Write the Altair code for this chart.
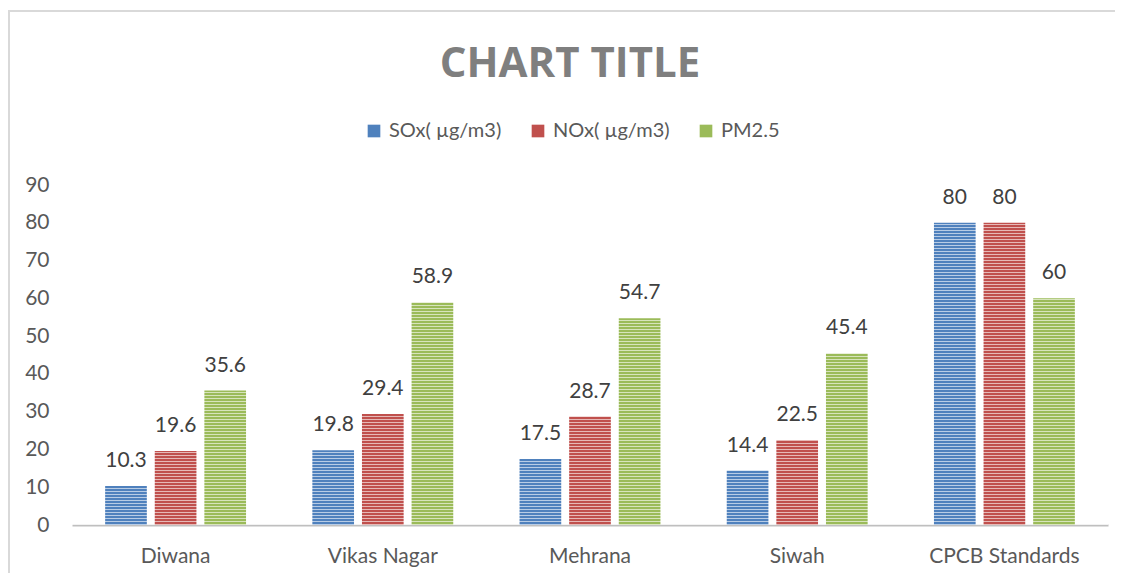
import altair as alt
import pandas as pd

categories = ["Diwana", "Vikas Nagar", "Mehrana", "Siwah", "CPCB Standards"]
series = ["SOx( µg/m3)", "NOx( µg/m3)", "PM2.5"]
sox = [10.3, 19.8, 17.5, 14.4, 80]
nox = [19.6, 29.4, 28.7, 22.5, 80]
pm25 = [35.6, 58.9, 54.7, 45.4, 60]
colors = ["#4F81BD", "#C0504D", "#9BBB59"]
y_ticks = [0, 10, 20, 30, 40, 50, 60, 70, 80, 90]

rows = []
for s, vals in zip(series, [sox, nox, pm25]):
    for c, v in zip(categories, vals):
        rows.append({"site": c, "series": s, "value": v})
df = pd.DataFrame(rows)

W, H = 1036, 340
FONT = "Lato"
FS = 21

x_enc = alt.X("site:N", sort=categories, title=None,
              scale=alt.Scale(paddingInner=0.32, paddingOuter=0.16),
              axis=alt.Axis(labelAngle=0, labelFont=FONT, labelFontSize=FS,
                            labelColor="#595959", labelPadding=20, ticks=False,
                            domainColor="#bfbfbf", domainWidth=2, grid=False))
xo_enc = alt.XOffset("series:N", sort=series,
                     scale=alt.Scale(paddingInner=0.16, paddingOuter=0))
y_scale = alt.Scale(domain=[0, 90], nice=False, zero=True)
y_axis = alt.Axis(values=y_ticks, domain=False, ticks=False, grid=False,
                  labelFont=FONT, labelFontSize=FS, labelColor="#595959",
                  labelPadding=23)
y_enc = alt.Y("value:Q", title=None, scale=y_scale, axis=y_axis)

base = alt.Chart(df)

bars = base.mark_bar().encode(
    x=x_enc,
    xOffset=xo_enc,
    y=y_enc,
    color=alt.Color("series:N", sort=series,
                    scale=alt.Scale(domain=series, range=colors),
                    legend=alt.Legend(title=None, orient="none", direction="horizontal",
                                      legendX=292, legendY=-64,
                                      symbolType="square", symbolSize=160,
                                      symbolStrokeWidth=0, symbolOpacity=1,
                                      labelFont=FONT, labelFontSize=20,
                                      labelColor="#595959", labelOffset=5,
                                      columnPadding=26)),
)

# decorative horizontal stripes (white on white background -> only visible on bars)
stripes = alt.Chart(alt.sequence(0.132, 89.9, 0.7941, as_="s")).mark_rule(
    color="white", strokeWidth=1, opacity=0.6
).encode(
    y=alt.Y("s:Q", title=None, scale=y_scale, axis=y_axis),
    x=alt.value(0),
    x2=alt.value(W),
)

labels = base.mark_text(font=FONT, fontSize=FS, color="#404040", dy=-19,
                        baseline="alphabetic").encode(
    x=x_enc, xOffset=xo_enc, y=y_enc, text=alt.Text("value:Q")
)

frame_left = alt.Chart(df).mark_rule(color="#d9d9d9", strokeWidth=2).encode(
    x=alt.value(-63), y=alt.value(-174), y2=alt.value(400)
)
frame_top = alt.Chart(df).mark_rule(color="#d9d9d9", strokeWidth=2).encode(
    x=alt.value(-64), x2=alt.value(1060), y=alt.value(-174)
)

chart = alt.layer(bars, stripes, labels, frame_left, frame_top).properties(
    width=W, height=H,
    title=alt.TitleParams("CHART TITLE", font="Open Sans", fontSize=42,
                          fontWeight="bold", color="#7f7f7f", anchor="middle",
                          dx=-20, offset=-76),
    autosize=alt.AutoSizeParams(type="none"),
    padding={"left": 64, "top": 177, "right": 7, "bottom": 48},
).configure(background="white").configure_view(stroke=None)

chart.save("out.html", embed_options={"renderer": "svg", "actions": False})
